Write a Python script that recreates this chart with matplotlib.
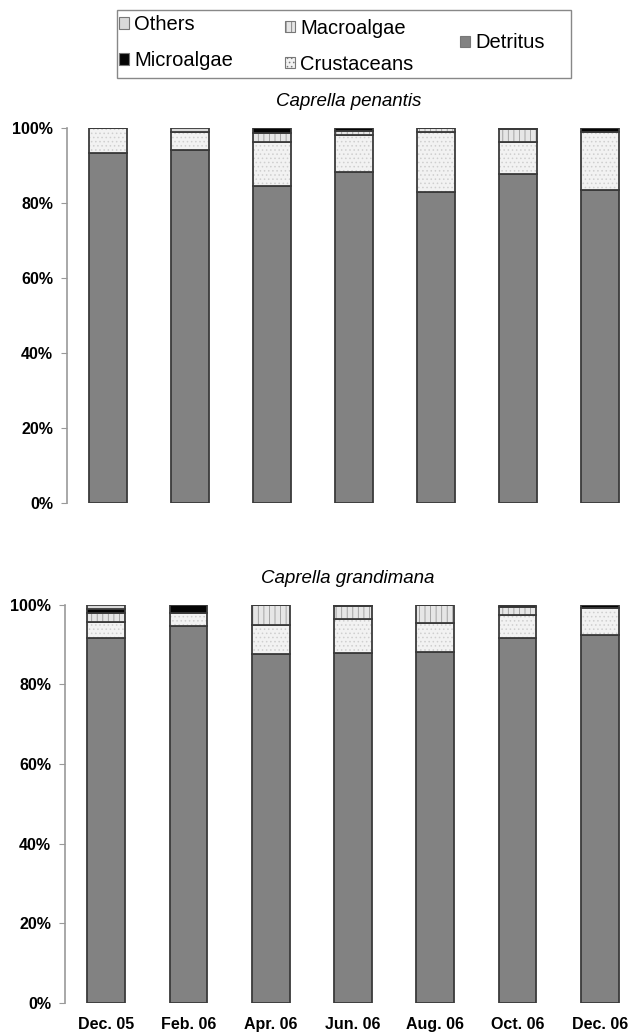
import numpy as np
import matplotlib.pyplot as plt
from matplotlib.patches import Patch, Rectangle

plt.rcParams['font.family'] = ['Liberation Sans', 'DejaVu Sans']
plt.rcParams['hatch.linewidth'] = 0.6

months = ['Dec. 05', 'Feb. 06', 'Apr. 06', 'Jun. 06', 'Aug. 06', 'Oct. 06', 'Dec. 06']
yticks = [0, 20, 40, 60, 80, 100]
ytick_labels = ['0%', '20%', '40%', '60%', '80%', '100%']

# Caprella penantis (% of gut content)
pen_detritus = [93.4, 94.2, 84.6, 88.3, 83.0, 87.8, 83.6]
pen_crustaceans = [6.6, 4.7, 11.7, 9.8, 15.9, 8.5, 15.3]
pen_macroalgae = [0, 0, 2.4, 1.1, 1.1, 3.4, 0]
pen_microalgae = [0, 0, 1.3, 0.8, 0, 0.3, 1.1]
pen_others = [0, 1.1, 0, 0, 0, 0, 0]

# Caprella grandimana
gra_detritus = [91.7, 94.7, 87.7, 88.0, 88.2, 91.7, 92.5]
gra_crustaceans = [4.0, 3.3, 7.3, 8.5, 7.3, 5.8, 6.7]
gra_macroalgae = [2.3, 0, 5.0, 3.3, 4.5, 2.0, 0]
gra_microalgae = [1.0, 2.0, 0, 0.2, 0, 0.5, 0.8]
gra_others = [1.0, 0, 0, 0, 0, 0, 0]

# (face, hatch, hatch colour)
styles = {
    'Detritus': ('#828282', None, '#828282'),
    'Crustaceans': ('#f2f2f2', '....', '#cfcfcf'),
    'Macroalgae': ('#e6e6e6', '|||', '#999999'),
    'Microalgae': ('#050505', None, '#050505'),
    'Others': ('#d9d9d9', None, '#d9d9d9'),
}
edge = '#3a3a3a'
width = 0.46


def stacked(ax, series, title, show_x):
    x = np.arange(len(months))
    bottom = np.zeros(len(months))
    for name, vals in series:
        fc, hatch, hc = styles[name]
        vals = np.array(vals, dtype=float)
        ax.bar(x, vals, width, bottom=bottom, color=fc, hatch=hatch,
               edgecolor=hc, linewidth=0)
        ax.bar(x, vals, width, bottom=bottom, fill=False,
               edgecolor=edge, linewidth=1.3)
        bottom += vals
    ax.set_ylim(0, 100)
    ax.set_xlim(-0.5, 6.37)
    ax.set_yticks(yticks)
    ax.set_yticklabels(ytick_labels, fontsize=11.5, fontweight='bold')
    ax.set_xticks(x)
    if show_x:
        ax.set_xticklabels(months, fontsize=11.5, fontweight='bold')
    else:
        ax.set_xticklabels([])
    ax.tick_params(axis='x', length=0, pad=10)
    ax.tick_params(axis='y', length=4, color='#999999', pad=6)
    for s in ['top', 'right', 'bottom']:
        ax.spines[s].set_visible(False)
    ax.spines['left'].set_color('#999999')
    ax.spines['left'].set_linewidth(1.2)
    ax.set_title(title, fontsize=13.5, style='italic', pad=16)


fig = plt.figure(figsize=(6.32, 10.35), dpi=100)
ax1 = fig.add_axes([0.106, 0.514, 0.891, 0.362])
ax2 = fig.add_axes([0.103, 0.031, 0.894, 0.3846])

stacked(ax1, [('Detritus', pen_detritus), ('Crustaceans', pen_crustaceans),
              ('Macroalgae', pen_macroalgae), ('Microalgae', pen_microalgae),
              ('Others', pen_others)], 'Caprella penantis', False)
stacked(ax2, [('Detritus', gra_detritus), ('Crustaceans', gra_crustaceans),
              ('Macroalgae', gra_macroalgae), ('Microalgae', gra_microalgae),
              ('Others', gra_others)], 'Caprella grandimana', True)


def handle(name):
    fc, hatch, hc = styles[name]
    return Patch(facecolor=fc, hatch=hatch, edgecolor='#777777', linewidth=0.8)


fig.patches.append(Rectangle((0.185, 0.9246), 0.718, 0.0657, transform=fig.transFigure,
                             fill=False, edgecolor='#888888', linewidth=1.0))
kw = dict(frameon=False, fontsize=14.5, handlelength=0.5, handleheight=0.5,
          handletextpad=0.25, labelspacing=0.85, borderpad=0, borderaxespad=0)
fig.legend([handle('Others'), handle('Microalgae')], ['Others', 'Microalgae'],
           loc='upper left', bbox_to_anchor=(0.188, 0.9855), **kw)
fig.legend([handle('Macroalgae'), handle('Crustaceans')], ['Macroalgae', 'Crustaceans'],
           loc='upper left', bbox_to_anchor=(0.451, 0.982), **kw)
fig.legend([handle('Detritus')], ['Detritus'],
           loc='center left', bbox_to_anchor=(0.728, 0.9585), **kw)

fig.savefig('out.png', dpi=100)
